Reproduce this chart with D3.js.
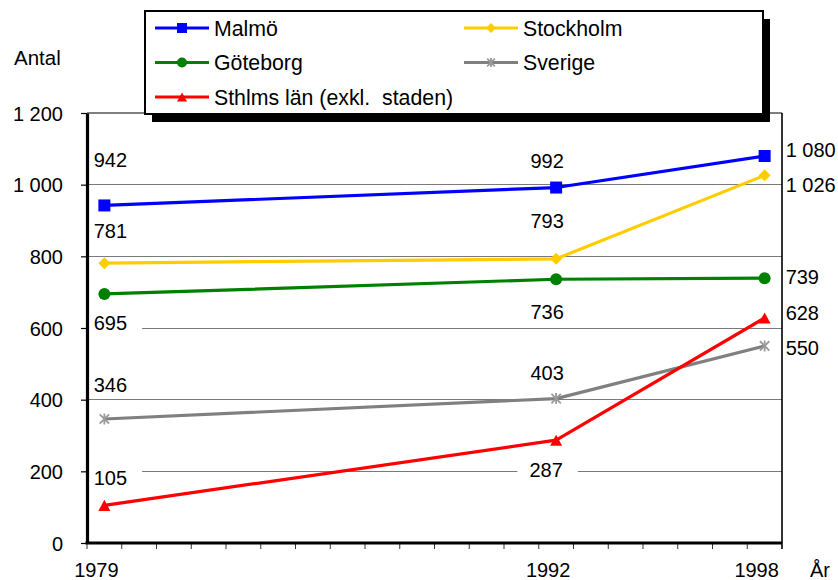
<!DOCTYPE html>
<html>
<head>
<meta charset="utf-8">
<script src="https://cdn.jsdelivr.net/npm/d3@7"></script>
<style>
  body { margin: 0; background: #fff; }
  text { font-family: "Liberation Sans", Arial, Helvetica, sans-serif; font-size: 20px; fill: #000; }
</style>
</head>
<body>
<svg id="chart" width="838" height="580"></svg>
<script>
// ---- data ----
const categoryYears = [1979, 1980, 1981, 1982, 1983, 1984, 1985, 1986, 1987, 1988,
                       1989, 1990, 1991, 1992, 1993, 1994, 1995, 1996, 1997, 1998];
const sampleYears = [1979, 1992, 1998];
const labeledYears = [1979, 1992, 1998];
const seriesNames = ["Malmö", "Stockholm", "Göteborg", "Sverige", "Sthlms län (exkl.  staden)"];
const malmo = [942, 992, 1080];
const stockholm = [781, 793, 1026];
const goteborg = [695, 736, 739];
const sverige = [346, 403, 550];
const sthlmsLan = [105, 287, 628];
const yTicks = [0, 200, 400, 600, 800, 1000, 1200];
const yTitle = "Antal";
const xTitle = "År";

// ---- styling / layout ----
const seriesStyle = [
  { color: "#0000ff", marker: "square",   markerColor: "#0000ff" },
  { color: "#ffcc00", marker: "diamond",  markerColor: "#ffcc00" },
  { color: "#008000", marker: "circle",   markerColor: "#008000" },
  { color: "#808080", marker: "asterisk", markerColor: "#9a9a9a" },
  { color: "#ff0000", marker: "triangle", markerColor: "#ff0000" }
];
// label placement relative to each point: [dx, dy] (text centre)
const labelOffsets = [
  [[6, -45], [-9, -27], [21, -6]],
  [[6, -32], [-9, -38], [21, 10]],
  [[6, 29],  [-9, 33],  [21, -1]],
  [[6, -34], [-9, -26], [21, 2]],
  [[6, -27], [-10, 30], [21, -5]]
];

const seriesValues = [malmo, stockholm, goteborg, sverige, sthlmsLan];
const series = seriesNames.map((name, i) => ({
  name, ...seriesStyle[i],
  points: sampleYears.map((yr, j) => ({ year: yr, value: seriesValues[i][j], off: labelOffsets[i][j], idx: j }))
}));

const fmt = d3.formatLocale({ decimal: ",", thousands: "\u00a0", grouping: [3], currency: ["", " kr"] }).format(",d");

const svg = d3.select("#chart");
const plot = { left: 87, right: 782, top: 113, bottom: 543 };

const x = d3.scaleBand().domain(categoryYears).range([plot.left, plot.right]).paddingInner(0).paddingOuter(0);
const xc = yr => x(yr) + x.bandwidth() / 2;
const y = d3.scaleLinear().domain([0, 1200]).range([plot.bottom, plot.top]);

// gridlines
svg.append("g").selectAll("line")
  .data(yTicks.filter(v => v > 0 && v < 1200))
  .join("line")
  .attr("x1", plot.left).attr("x2", plot.right)
  .attr("y1", d => y(d)).attr("y2", d => y(d))
  .attr("stroke", "#7a7a7a").attr("stroke-width", 1).attr("shape-rendering", "crispEdges");

// data labels (inside labels get a white background box)
const labels = svg.append("g");
series.forEach(s => {
  s.points.forEach(p => {
    const txt = fmt(p.value);
    const lx = xc(p.year) + p.off[0];
    const ly = y(p.value) + p.off[1];
    const last = p.idx === s.points.length - 1;
    const t = labels.append("text")
      .attr("x", lx).attr("y", ly + 7)
      .attr("text-anchor", last ? "start" : "middle")
      .text(txt);
    if (!last) {
      const w = t.node().getComputedTextLength();
      labels.insert("rect", () => t.node())
        .attr("x", lx - w / 2 - 12).attr("y", ly - 12)
        .attr("width", w + 27).attr("height", 24)
        .attr("fill", "#fff");
    }
  });
});

// marker shapes
function drawMarker(g, type, cx, cy, size, color) {
  const h = size / 2;
  if (type === "square") {
    g.append("rect").attr("x", cx - h).attr("y", cy - h).attr("width", size).attr("height", size).attr("fill", color);
  } else if (type === "diamond") {
    g.append("path").attr("d", `M${cx},${cy - h}L${cx + h},${cy}L${cx},${cy + h}L${cx - h},${cy}Z`).attr("fill", color);
  } else if (type === "circle") {
    g.append("circle").attr("cx", cx).attr("cy", cy).attr("r", h).attr("fill", color);
  } else if (type === "triangle") {
    const th = size * 0.92;
    g.append("path").attr("d", `M${cx},${cy - th / 2}L${cx + h},${cy + th / 2}L${cx - h},${cy + th / 2}Z`).attr("fill", color);
  } else if (type === "asterisk") {
    const a = h * 0.85;
    g.append("path")
      .attr("d", `M${cx - a},${cy - a}L${cx + a},${cy + a}M${cx - a},${cy + a}L${cx + a},${cy - a}M${cx},${cy - h}L${cx},${cy + h}`)
      .attr("stroke", color).attr("stroke-width", 1.8).attr("fill", "none");
  }
}

// series lines + markers
const line = d3.line().x(p => xc(p.year)).y(p => y(p.value));
const linesG = svg.append("g");
series.forEach(s => {
  linesG.append("path").datum(s.points).attr("d", line)
    .attr("fill", "none").attr("stroke", s.color).attr("stroke-width", 3.2).attr("stroke-linejoin", "round");
});
series.forEach(s => {
  s.points.forEach(p => drawMarker(linesG, s.marker, xc(p.year), y(p.value), s.marker === "asterisk" ? 11 : 12, s.markerColor));
});

// plot frame: thin top/right, thick axes left/bottom
svg.append("line").attr("x1", plot.left).attr("x2", plot.right).attr("y1", plot.top).attr("y2", plot.top)
  .attr("stroke", "#000").attr("stroke-width", 1.2);
svg.append("line").attr("x1", plot.right).attr("x2", plot.right).attr("y1", plot.top).attr("y2", plot.bottom + 6)
  .attr("stroke", "#000").attr("stroke-width", 1.6);

// y axis
const yAxis = svg.append("g").attr("transform", `translate(${plot.left},0)`)
  .call(d3.axisLeft(y).tickValues(yTicks).tickFormat(fmt).tickSize(6).tickSizeOuter(0).tickPadding(18));
yAxis.select(".domain").attr("stroke-width", 3.2);
yAxis.selectAll(".tick line").attr("stroke-width", 1.2);
yAxis.selectAll(".tick text").attr("font-size", 20).attr("font-family", "Liberation Sans, Arial, sans-serif").attr("dy", "0.36em");

// x axis: ticks at category boundaries, labels for selected years
const xg = svg.append("g");
const boundaries = categoryYears.map(yr => x(yr)).concat([plot.right]);
xg.selectAll("line.tk").data(boundaries).join("line")
  .attr("class", "tk")
  .attr("x1", d => d).attr("x2", d => d)
  .attr("y1", plot.bottom).attr("y2", plot.bottom + 6)
  .attr("stroke", "#333").attr("stroke-width", 1);
xg.append("line").attr("x1", plot.left - 1.5).attr("x2", plot.right).attr("y1", plot.bottom).attr("y2", plot.bottom)
  .attr("stroke", "#000").attr("stroke-width", 3.2);
xg.selectAll("text").data(labeledYears).join("text")
  .attr("x", d => xc(d) - 8).attr("y", 577)
  .attr("text-anchor", "middle").text(d => d);

// axis titles
svg.append("text").attr("x", 14).attr("y", 65).style("font-size", "20.5px").text(yTitle);
svg.append("text").attr("x", 810).attr("y", 577).text(xTitle);

// legend with drop shadow
const lg = svg.append("g");
const box = { x: 145, y: 11, w: 618, h: 103 };
lg.append("rect").attr("x", box.x + 7).attr("y", box.y + 8).attr("width", box.w).attr("height", box.h).attr("fill", "#000");
lg.append("rect").attr("x", box.x).attr("y", box.y).attr("width", box.w).attr("height", box.h)
  .attr("fill", "#fff").attr("stroke", "#000").attr("stroke-width", 2);
series.forEach((s, i) => {
  const col = i % 2, row = Math.floor(i / 2);
  const lx = 155 + col * 309, ly = 28 + row * 34.5;
  lg.append("line").attr("x1", lx).attr("x2", lx + 54).attr("y1", ly).attr("y2", ly)
    .attr("stroke", s.color).attr("stroke-width", 3.2);
  drawMarker(lg, s.marker, lx + 27, ly, s.marker === "asterisk" ? 9 : 10, s.markerColor);
  lg.append("text").attr("x", lx + 59).attr("y", ly + 7.5).style("font-size", "21.3px").style("white-space", "pre").text(s.name);
});
</script>
</body>
</html>
